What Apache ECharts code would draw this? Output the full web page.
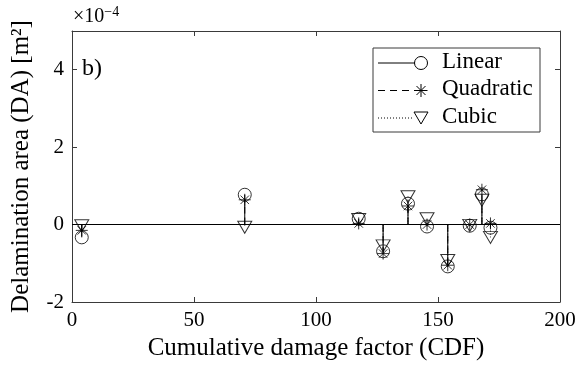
<!DOCTYPE html>
<html><head><meta charset="utf-8">
<script src="https://cdn.jsdelivr.net/npm/echarts@6/dist/echarts.min.js"></script>
<style>html,body{margin:0;padding:0;background:#fff}#c{width:587px;height:366px}</style>
</head><body><div id="c"></div>
<script>
// Values in units of 1e-4 m^2
const cdf       = [4, 70.8, 117.5, 127.5, 137.7, 145.5, 154, 163, 168, 171.5];
const linear    = [-0.33, 0.77, 0.15, -0.69, 0.54, -0.05, -1.08, -0.03, 0.78, -0.08];
const quadratic = [-0.15, 0.64, 0.03, -0.75, 0.48, 0.00, -1.05, 0.00, 0.90, 0.03];
const cubic     = [-0.03, -0.07, 0.13, -0.55, 0.72, 0.15, -0.93, -0.02, 0.63, -0.33];
const xTicks = [0, 50, 100, 150, 200];
const yTicks = [-2, 0, 2, 4];
const seriesNames = ['Linear', 'Quadratic', 'Cubic'];

const FONT = 'Liberation Serif';
const AX = '#3a3a3a';
const asterisk = 'path://M0,-10 L0,10 M-10,0 L10,0 M-7.07,-7.07 L7.07,7.07 M-7.07,7.07 L7.07,-7.07';

function pairs(vals){ return cdf.map((x,i)=>[x, vals[i]]); }

function stemSeries(vals, dash, name){
  return {
    type: 'custom', name: name + ' stems', z: 2,
    data: pairs(vals),
    renderItem: function(params, api){
      const p0 = api.coord([api.value(0), 0]);
      const p1 = api.coord([api.value(0), api.value(1)]);
      return {type:'line', shape:{x1:p0[0], y1:p0[1], x2:p1[0], y2:p1[1]},
        style:{stroke:'#000', lineWidth:1, lineDash: dash}};
    },
    silent: true
  };
}
function markerSeries(vals, symbol, size, rotate, name){
  return {
    type: 'scatter', name: name, z: 3,
    data: pairs(vals), symbol: symbol, symbolSize: size, symbolRotate: rotate,
    itemStyle: {color: 'rgba(0,0,0,0)', borderColor: '#000', borderWidth: 1},
    silent: true
  };
}
function legLine(x1,y1,x2,y2,dash){
  return {type:'line', z:11, shape:{x1:x1,y1:y1,x2:x2,y2:y2}, style:{stroke:'#000', lineWidth:1, lineDash:dash||null}};
}

const chart = echarts.init(document.getElementById('c'), null, {renderer: 'canvas'});
const legX = 373, legY = 48, legRows = [63, 90.5, 118];
const ax = 421, r = 6.5, d = 4.5;
chart.setOption({
  animation: false,
  textStyle: {fontFamily: FONT},
  grid: {left: 72, right: 27, top: 31, bottom: 63},
  xAxis: [{
    type: 'value', min: 0, max: 200, interval: 50,
    name: 'Cumulative damage factor (CDF)', nameLocation: 'middle', nameGap: 34,
    nameTextStyle: {fontFamily: FONT, fontSize: 25, color: '#000'},
    axisLine: {show: true, onZero: false, lineStyle: {color: AX}},
    axisTick: {show: true, inside: true, length: 5, lineStyle: {color: AX}},
    axisLabel: {fontFamily: FONT, fontSize: 21, color: '#000', margin: 8},
    splitLine: {show: false}
  }, {
    type: 'value', min: 0, max: 200, interval: 50, position: 'top',
    axisLine: {show: true, onZero: false, lineStyle: {color: AX}},
    axisTick: {show: true, inside: true, length: 5, lineStyle: {color: AX}},
    axisLabel: {show: false}, splitLine: {show: false}
  }],
  yAxis: [{
    type: 'value', min: -2, max: 5, interval: 2,
    name: 'Delamination area (DA) [m²]', nameLocation: 'middle', nameGap: 38, nameRotate: 90,
    nameTextStyle: {fontFamily: FONT, fontSize: 25, color: '#000'},
    axisLine: {show: true, onZero: false, lineStyle: {color: AX}},
    axisTick: {show: true, inside: true, length: 5, lineStyle: {color: AX}},
    axisLabel: {fontFamily: FONT, fontSize: 21, color: '#000', margin: 8, showMaxLabel: false,
      formatter: v => yTicks.includes(v) ? String(v) : ''},
    splitLine: {show: false}
  }, {
    type: 'value', min: -2, max: 5, interval: 2, position: 'right',
    axisLine: {show: true, onZero: false, lineStyle: {color: AX}},
    axisTick: {show: true, inside: true, length: 5, lineStyle: {color: AX}},
    axisLabel: {show: false}, splitLine: {show: false}
  }],
  series: [
    Object.assign(stemSeries(cubic, [1, 2], 'Cubic'), {
      markLine: {silent: true, symbol: 'none', label: {show: false},
        lineStyle: {color: '#000', type: 'solid', width: 1}, data: [{yAxis: 0}]}
    }),
    stemSeries(quadratic, [7, 4], 'Quadratic'),
    stemSeries(linear, null, 'Linear'),
    markerSeries(cubic, 'triangle', [14, 12], 180, 'Cubic'),
    markerSeries(quadratic, asterisk, 12, 0, 'Quadratic'),
    markerSeries(linear, 'circle', 13, 0, 'Linear')
  ],
  graphic: [
    {type: 'text', x: 73, y: 5, style: {
      text: '×10{s|−4}', fontFamily: FONT, fontSize: 20, fill: '#000',
      rich: {s: {fontFamily: FONT, fontSize: 14, verticalAlign: 'top', padding: [0,0,10,0]}}}},
    {type: 'text', x: 82, y: 57, style: {text: 'b)', fontFamily: FONT, fontSize: 24, fill: '#000'}},
    {type: 'rect', shape: {x: legX, y: legY, width: 167, height: 84}, z: 10,
      style: {fill: '#fff', stroke: AX, lineWidth: 1}},
    legLine(378, legRows[0], 415, legRows[0]),
    {type: 'circle', z: 11, shape: {cx: ax, cy: legRows[0], r: r}, style: {fill: 'none', stroke: '#000', lineWidth: 1}},
    legLine(378, legRows[1], 415, legRows[1], [7, 5]),
    legLine(ax, legRows[1]-r, ax, legRows[1]+r),
    legLine(ax-r, legRows[1], ax+r, legRows[1]),
    legLine(ax-d, legRows[1]-d, ax+d, legRows[1]+d),
    legLine(ax-d, legRows[1]+d, ax+d, legRows[1]-d),
    legLine(378, legRows[2], 414, legRows[2], [1, 2]),
    {type: 'polygon', z: 11, shape: {points: [[414, legRows[2]-6], [428, legRows[2]-6], [421, legRows[2]+6]]}, style: {fill: 'none', stroke: '#000', lineWidth: 1}},
    {type: 'text', z: 11, x: 442, y: legRows[0]-13, style: {text: seriesNames[0], fontFamily: FONT, fontSize: 23, fill: '#000'}},
    {type: 'text', z: 11, x: 442, y: legRows[1]-13, style: {text: seriesNames[1], fontFamily: FONT, fontSize: 23, fill: '#000'}},
    {type: 'text', z: 11, x: 442, y: legRows[2]-13, style: {text: seriesNames[2], fontFamily: FONT, fontSize: 23, fill: '#000'}}
  ]
});
</script></body></html>
